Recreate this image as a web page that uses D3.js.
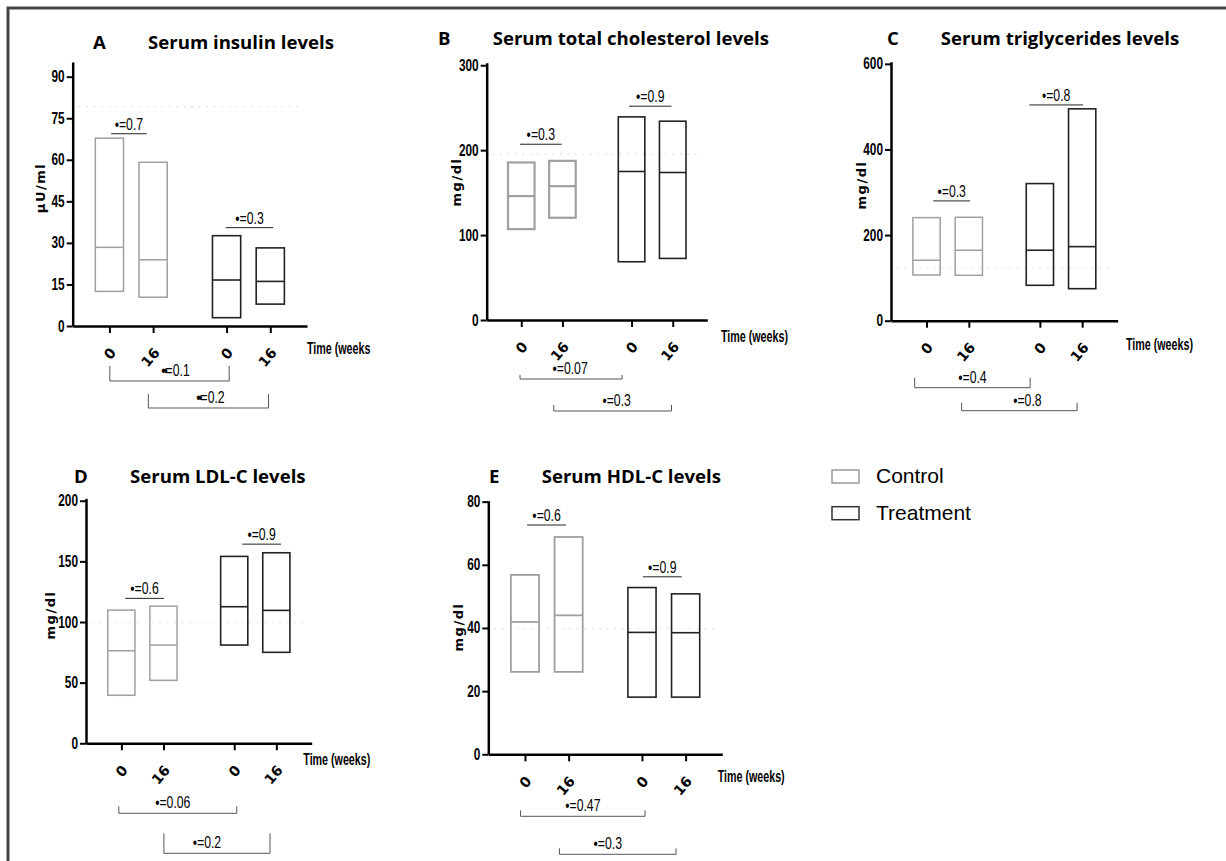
<!DOCTYPE html>
<html>
<head>
<meta charset="utf-8">
<script src="https://cdn.jsdelivr.net/npm/d3@7"></script>
<style>
body { margin: 0; background: #fff; }
</style>
</head>
<body>
<svg id="drawing_region"></svg>
<script>
// categories
const times = ["0", "16", "0", "16"];
const groups = ["Control", "Control", "Treatment", "Treatment"];
const groupNames = ["Control", "Treatment"];

// A: insulin (µU/ml)
const insulinMin = [12.5, 10.4, 3.0, 7.9];
const insulinMed = [28.4, 23.9, 16.6, 16.1];
const insulinMax = [67.8, 59.1, 32.6, 28.2];
const insulinTicks = [0, 15, 30, 45, 60, 75, 90];
const insulinWithinP = ["0.7", "0.3"];
const insulinBetweenP = ["0.1", "0.2"];

// B: total cholesterol (mg/dl)
const cholMin = [107, 120.4, 68.6, 72.5];
const cholMed = [145.9, 157.6, 174.9, 173.7];
const cholMax = [185.5, 187.4, 239.2, 234.1];
const cholTicks = [0, 100, 200, 300];
const cholWithinP = ["0.3", "0.9"];
const cholBetweenP = ["0.07", "0.3"];

// C: triglycerides (mg/dl)
const trigMin = [106.8, 106.1, 82.7, 74.8];
const trigMed = [141.2, 164.6, 164.6, 173.0];
const trigMax = [240.8, 241.6, 320.3, 494.9];
const trigTicks = [0, 200, 400, 600];
const trigWithinP = ["0.3", "0.8"];
const trigBetweenP = ["0.4", "0.8"];

// D: LDL-C (mg/dl)
const ldlMin = [39.6, 51.9, 81.0, 75.0];
const ldlMed = [76.3, 81.0, 112.6, 109.6];
const ldlMax = [109.8, 113.1, 154.1, 157.1];
const ldlTicks = [0, 50, 100, 150, 200];
const ldlWithinP = ["0.6", "0.9"];
const ldlBetweenP = ["0.06", "0.2"];

// E: HDL-C (mg/dl)
const hdlMin = [26.1, 26.1, 18.1, 18.1];
const hdlMed = [41.9, 44.0, 38.6, 38.5];
const hdlMax = [56.8, 68.8, 52.8, 50.8];
const hdlTicks = [0, 20, 40, 60, 80];
const hdlWithinP = ["0.6", "0.9"];
const hdlBetweenP = ["0.47", "0.3"];

const GROUP_GAP = 2.68;
const HALF_BAR = 0.3225;
const SANS = "Liberation Sans, Arial, sans-serif";
const groupColor = { Control: "#a0a0a0", Treatment: "#222" };

const panels = [
  { letter: "A", title: "Serum insulin levels", ylabel: "\u03bcU/ml", xlabel: "Time (weeks",
    min: insulinMin, med: insulinMed, max: insulinMax, ticks: insulinTicks,
    within: insulinWithinP, between: insulinBetweenP, bullet: "\u2022\u2022",
    layout: { x0: 72.7, x1: 307, y0: 326, yTop: 62, yMax: 95.3, ctrlW: 1.5,
      letterX: 93, titleX: 148, titleY: 49, ylab: [45, 188], xlab: [307, 354],
      faint: 79.2, cmp: [[0.04, 0.85], [-0.02, 1.07]], cmpY: [69.4, 35.5],
      br: [[0.01, 2.74, 55, 15, 6], [0.89, 3.64, 82, 14, 2]] } },
  { letter: "B", title: "Serum total cholesterol levels", ylabel: "mg/dl", xlabel: "Time (weeks)",
    min: cholMin, med: cholMed, max: cholMax, ticks: cholTicks,
    within: cholWithinP, between: cholBetweenP, bullet: "\u2022",
    layout: { x0: 486.7, x1: 707.3, y0: 320, yTop: 62.7, yMax: 303, ctrlW: 2.2,
      letterX: 438, titleX: 492.7, titleY: 45, ylab: [461, 182], xlab: [721, 342],
      faint: 195.3, cmp: [[-0.03, 0.98], [-0.06, 0.97]], cmpY: [207, 251.8],
      br: [[-0.03, 2.45, 59, 4, -1], [0.79, 3.65, 91, 6, 4]] } },
  { letter: "C", title: "Serum triglycerides levels", ylabel: "mg/dl", xlabel: "Time (weeks)",
    min: trigMin, med: trigMed, max: trigMax, ticks: trigTicks,
    within: trigWithinP, between: trigBetweenP, bullet: "\u2022",
    layout: { x0: 891, x1: 1117.7, y0: 320.7, yTop: 61.7, yMax: 605, ctrlW: 1.5,
      letterX: 887, titleX: 940.7, titleY: 45, ylab: [866, 185], xlab: [1126, 350],
      faint: 122.5, cmp: [[0.16, 1.03], [-0.25, 1.02]], cmpY: [279.8, 504],
      br: [[-0.28, 2.45, 67, 10, 0], [0.83, 3.56, 90, 8, 8]] } },
  { letter: "D", title: "Serum LDL-C levels", ylabel: "mg/dl", xlabel: "Time (weeks)",
    min: ldlMin, med: ldlMed, max: ldlMax, ticks: ldlTicks,
    within: ldlWithinP, between: ldlBetweenP, bullet: "\u2022",
    layout: { x0: 86, x1: 311.7, y0: 743.3, yTop: 498.3, yMax: 202, ctrlW: 1.5,
      letterX: 74, titleX: 130, titleY: 483, ylab: [55, 615], xlab: [303.3, 765],
      faint: 99.4, cmp: [[0.09, 1.01], [0.19, 1.11]], cmpY: [119.5, 164.2],
      br: [[-0.06, 2.74, 70, 7, -5], [1.01, 3.53, 110, 20, -10]] } },
  { letter: "E", title: "Serum HDL-C levels", ylabel: "mg/dl", xlabel: "Time (weeks)",
    min: hdlMin, med: hdlMed, max: hdlMax, ticks: hdlTicks,
    within: hdlWithinP, between: hdlBetweenP, bullet: "\u2022",
    layout: { x0: 488.3, x1: 722.3, y0: 754.3, yTop: 500.7, yMax: 80.3, ctrlW: 1.8,
      letterX: 489, titleX: 541.7, titleY: 483, ylab: [463, 627], xlab: [717.7, 782],
      faint: 39.7, cmp: [[0.05, 0.94], [0.02, 0.91]], cmpY: [72.6, 56.2],
      br: [[-0.10, 2.75, 62, 6, 0], [0.79, 3.46, 100, 6, -10]] } }
];

const svg = d3.select("#drawing_region")
  .attr("width", 1226)
  .attr("height", 861);

// outer frame (top and left edges only)
svg.append("path")
  .attr("d", "M8,861 V8 H1226")
  .attr("fill", "none")
  .attr("stroke", "#444")
  .attr("stroke-width", 3);

const slot = i => groupNames.indexOf(groups[i]) * GROUP_GAP + (i % 2);

// squeezed text to imitate a condensed face
function narrow(parent, x, y, str, size, anchor, weight, sx) {
  return parent.append("text")
    .attr("transform", `translate(${x},${y}) scale(${sx || 0.72},1)`)
    .attr("text-anchor", anchor || "start")
    .style("font-family", SANS)
    .style("font-size", size + "px")
    .style("font-weight", weight || "normal")
    .attr("fill", "#000")
    .text(str);
}

function drawPanel(p) {
  const L = p.layout;
  const g = svg.append("g");
  const x = d3.scaleLinear().domain([-0.84, 4.52]).range([L.x0, L.x1]);
  const y = d3.scaleLinear().domain([0, L.yMax]).range([L.y0, L.yTop]);

  // faint dotted artefact line
  g.append("line")
    .attr("x1", x(-0.7)).attr("x2", x(4.4))
    .attr("y1", y(L.faint)).attr("y2", y(L.faint))
    .attr("stroke", "#dcdcdc").attr("stroke-width", 1.2)
    .attr("stroke-dasharray", "1.5,6");

  // floating bars (min to max) with median line
  const data = times.map((t, i) => ({ time: t, group: groups[i], min: p.min[i], med: p.med[i], max: p.max[i], s: slot(i) }));
  g.selectAll("rect.bar")
    .data(data)
    .enter()
    .append("rect")
    .attr("class", "bar")
    .attr("x", d => x(d.s - HALF_BAR))
    .attr("width", d => x(d.s + HALF_BAR) - x(d.s - HALF_BAR))
    .attr("y", d => y(d.max))
    .attr("height", d => y(d.min) - y(d.max))
    .attr("fill", "none")
    .attr("stroke", d => groupColor[d.group])
    .attr("stroke-width", d => d.group === "Control" ? L.ctrlW : 1.6);
  g.selectAll("line.med")
    .data(data)
    .enter()
    .append("line")
    .attr("class", "med")
    .attr("x1", d => x(d.s - HALF_BAR))
    .attr("x2", d => x(d.s + HALF_BAR))
    .attr("y1", d => y(d.med))
    .attr("y2", d => y(d.med))
    .attr("stroke", d => groupColor[d.group])
    .attr("stroke-width", d => d.group === "Control" ? L.ctrlW : 1.6);

  // axes
  const xaxis = d3.axisBottom(x)
    .tickValues(data.map(d => d.s))
    .tickFormat((d, i) => times[i])
    .tickSize(7)
    .tickSizeOuter(0);
  const xg = g.append("g")
    .attr("transform", `translate(0,${L.y0})`)
    .call(xaxis);
  xg.selectAll("text")
    .attr("x", 0).attr("y", 0).attr("dy", "0.35em")
    .attr("text-anchor", "end")
    .attr("transform", "translate(3,24) rotate(-50)")
    .style("font-family", "DejaVu Sans, sans-serif")
    .style("font-weight", "bold")
    .style("font-size", "14px")
    .attr("fill", "#000");

  const yaxis = d3.axisLeft(y)
    .tickValues(p.ticks)
    .tickSize(6)
    .tickFormat("")
    .tickSizeOuter(0);
  const yg = g.append("g")
    .attr("transform", `translate(${L.x0},0)`)
    .call(yaxis);
  p.ticks.forEach(t => {
    narrow(g, L.x0 - 8, y(t) + 5.5, String(t), 16, "end", "bold", 0.74);
  });

  [xg, yg].forEach(a => {
    a.select(".domain").attr("stroke", "#000").attr("stroke-width", 2.5);
    a.selectAll(".tick line").attr("stroke", "#000").attr("stroke-width", 2);
  });

  // within-group comparisons
  p.within.forEach((pv, k) => {
    const xa = x(k * GROUP_GAP + L.cmp[k][0]);
    const xb = x(k * GROUP_GAP + L.cmp[k][1]);
    const yy = y(L.cmpY[k]);
    g.append("line")
      .attr("x1", xa).attr("x2", xb).attr("y1", yy).attr("y2", yy)
      .attr("stroke", "#222").attr("stroke-width", 1);
    narrow(g, (xa + xb) / 2, yy - 4, "\u2022=" + pv, 17, "middle");
  });

  // between-group brackets
  p.between.forEach((pv, k) => {
    const b = L.br[k];
    const xa = x(b[0]), xb = x(b[1]);
    const yy = L.y0 + b[2];
    g.append("path")
      .attr("d", `M${xa},${yy - b[3]} V${yy} H${xb} V${yy - b[3]}`)
      .attr("fill", "none")
      .attr("stroke", "#555").attr("stroke-width", 1);
    const t = narrow(g, (xa + xb) / 2 + b[4], yy - 5, "", 17, "middle");
    t.append("tspan")
      .style("letter-spacing", p.bullet.length > 1 ? "-3px" : "0px")
      .text(p.bullet);
    t.append("tspan").text("=" + pv);
  });

  // titles and axis labels
  [[L.letterX, p.letter], [L.titleX, p.title]].forEach(([tx, str]) => {
    g.append("text")
      .attr("x", tx).attr("y", L.titleY)
      .style("font-family", "Open Sans, Lato, sans-serif")
      .style("font-weight", "bold")
      .style("font-size", "18.6px")
      .text(str);
  });
  g.append("text")
    .attr("transform", `translate(${L.ylab[0]},${L.ylab[1]}) rotate(-90)`)
    .attr("text-anchor", "middle")
    .style("font-family", "DejaVu Sans, sans-serif")
    .style("font-weight", "bold")
    .style("font-size", "13px")
    .style("letter-spacing", "1.5px")
    .text(p.ylabel);
  narrow(g, L.xlab[0], L.xlab[1], p.xlabel, 17, "start", "bold", 0.63);
}

panels.forEach(drawPanel);

// legend
const legend = svg.append("g").attr("transform", "translate(832,470)");
groupNames.forEach((name, i) => {
  legend.append("rect")
    .attr("x", 0).attr("y", i * 36.7)
    .attr("width", 27).attr("height", 13)
    .attr("fill", "none")
    .attr("stroke", name === "Control" ? "#999" : "#333")
    .attr("stroke-width", 1.5);
  legend.append("text")
    .attr("x", 44).attr("y", i * 36.7 + 13)
    .style("font-family", SANS)
    .style("font-size", "21px")
    .text(name);
});
</script>
</body>
</html>
